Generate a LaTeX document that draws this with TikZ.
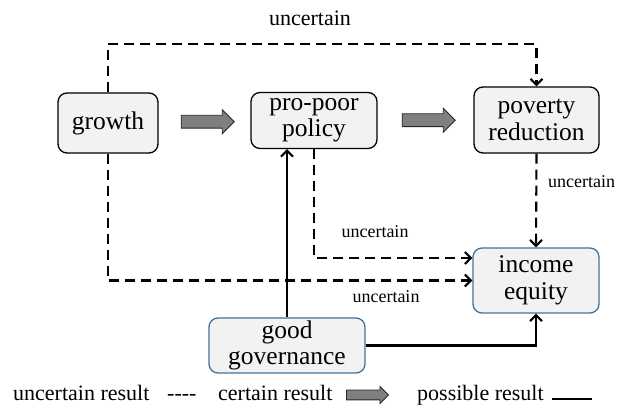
\documentclass[tikz,border=0pt]{standalone}
\usepackage{fontspec}
\setmainfont{Liberation Serif}
\usetikzlibrary{arrows.meta,shapes.arrows,calc}
\tikzset{>={Straight Barb[length=6pt,width=12pt]}}
\definecolor{boxfill}{HTML}{F2F2F2}
\definecolor{govblue}{HTML}{41719C}
\definecolor{fatgray}{HTML}{7F7F7F}

\begin{document}
\begin{tikzpicture}[x=1pt,y=1pt,
    box/.style={draw,line width=1.3pt,rounded corners=9pt,fill=boxfill,align=center,inner sep=0pt,font=\fontsize{25.5}{26.5}\selectfont},
    bluebox/.style={box,draw=govblue},
    unsure/.style={->,line width=2.1pt,dash pattern=on 10pt off 6pt},
    sure/.style={->,line width=2.1pt},
    fat/.style={single arrow,draw=black!85,line width=0.9pt,fill=fatgray,inner sep=6pt,single arrow head extend=5.5pt,minimum height=53pt},
    lbl/.style={inner sep=0pt,font=\fontsize{18}{18}\selectfont},
    key/.style={inner sep=0pt,anchor=base west,font=\fontsize{22}{22}\selectfont}]
    \useasboundingbox (0,0) rectangle (626,406);
    % boxes
    \node[box,minimum width=100pt,minimum height=60pt] (growth) at (108,283) {growth};
    \node[box,minimum width=126pt,minimum height=56pt] (policy) at (314,285.5) {pro-poor\\policy};
    \node[box,minimum width=125pt,minimum height=66pt] (poverty) at (536.5,286) {poverty\\reduction};
    \node[bluebox,minimum width=126pt,minimum height=65pt] (income) at (536,125.5) {income\\equity};
    \node[bluebox,minimum width=156pt,minimum height=55pt] (gov) at (287,60.5) {good\\governance};
    % certain results
    \node[fat] (g2p) at ($(growth.east)!0.5!(policy.west)$) {};
    \node[fat] (p2r) at ($(policy.east)!0.5!(poverty.west)$) {};
    % uncertain results
    \draw[unsure] (growth.north) -- ++(0,48) -| (poverty.north);
    \draw[unsure] (poverty.south) -- (income.north);
    \draw[unsure] (policy.south) |- ($(income.west)+(0,22.5)$);
    \draw[unsure] (growth.south) |- (income.west);
    % possible results
    \draw[sure] (gov.north) -- (gov.north |- policy.south);
    \draw[sure] (gov.east) -| (income.south);
    % labels
    \node[lbl,font=\fontsize{22}{22}\selectfont] (toplbl) at (310,388) {uncertain};
    \node[lbl,anchor=west] (rightlbl) at (548,224) {uncertain};
    \node[lbl] (midlbl) at (375,174) {uncertain};
    \node[lbl] (lowlbl) at (386,109) {uncertain};
    % legend
    \node[key] (k1) at (13,5) {uncertain result};
    \node[key] (k2) at (167,5) {-\kern0pt-\kern0pt-\kern0pt-};
    \node[key] (k3) at (218,5) {certain result};
    \node[fat,inner sep=4.5pt,single arrow head extend=3.5pt,minimum height=42pt] (k4) at (365,11) {};
    \node[key] (k5) at (417,5) {possible result};
    \coordinate (k6a) at (552,7);
    \coordinate (k6b) at (592,7);
    \draw[line width=2.4pt] (k6a) -- (k6b);
\end{tikzpicture}
\end{document}
